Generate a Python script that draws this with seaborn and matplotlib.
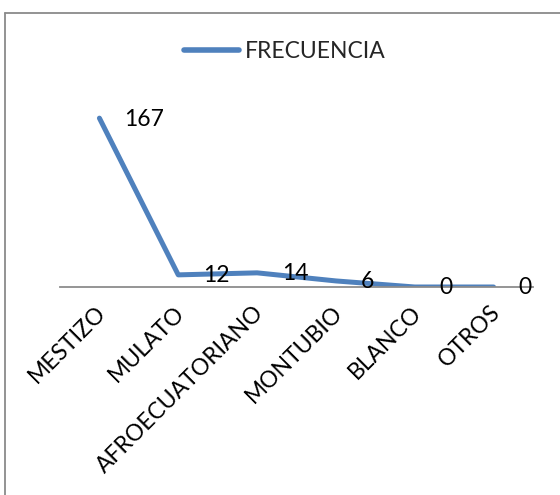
import matplotlib
matplotlib.use("Agg")
import matplotlib.pyplot as plt
from matplotlib.lines import Line2D
from matplotlib.transforms import ScaledTranslation
import seaborn as sns
import pandas as pd

categorias = ["MESTIZO", "MULATO", "AFROECUATORIANO", "MONTUBIO", "BLANCO", "OTROS"]
frecuencia = [167, 12, 14, 6, 0, 0]
serie = "FRECUENCIA"

sns.set_theme(style="white")
plt.rcParams["font.family"] = ["Lato", "DejaVu Sans"]
FS = 16.5

W, H, DPI = 560, 495, 100
fig = plt.figure(figsize=(W / DPI, H / DPI), dpi=DPI)
fig.patch.set_facecolor("white")

# plot area in pixels: x 60..533, zero line at y=287, top at y=105
left, right, zero_y, top_y = 60, 533, 287, 105
ax = fig.add_axes([left / W, (H - zero_y) / H, (right - left) / W, (zero_y - top_y) / H])

df = pd.DataFrame({"categoria": categorias, serie: frecuencia})
azul = "#4F81BD"
sns.lineplot(data=df, x="categoria", y=serie, sort=False, ax=ax, color=azul,
             linewidth=3.6, label=serie, solid_capstyle="round", solid_joinstyle="round")

ax.set_xlim(-0.5, len(categorias) - 0.5)
ax.set_ylim(0, 180)
ax.set_xlabel("")
ax.set_ylabel("")
ax.set_yticks([])
for s in ["top", "right", "left"]:
    ax.spines[s].set_visible(False)
ax.spines["bottom"].set_color("#8C8C8C")
ax.spines["bottom"].set_linewidth(1.3)

ax.set_xticks(range(len(categorias)))
ax.set_xticklabels(categorias, rotation=45, ha="right", rotation_mode="anchor",
                   fontsize=FS, color="black")
ax.tick_params(axis="x", length=0, pad=16)
shift = ScaledTranslation(3 / DPI, 0, fig.dpi_scale_trans)
for lab in ax.get_xticklabels():
    lab.set_transform(lab.get_transform() + shift)
    lab.set_va("center")

# value labels to the right of each point
for i, v in enumerate(frecuencia):
    ax.annotate(str(v), (i, v), xytext=(25, -1), textcoords="offset pixels",
                ha="left", va="center", fontsize=FS, color="black")

leg = ax.legend(loc="center", bbox_to_anchor=(0.508, 1 - 52 / H),
                bbox_transform=fig.transFigure, frameon=False, fontsize=FS,
                handlelength=2.4, handletextpad=0.25)
for h in leg.get_lines():
    h.set_linewidth(4)
    h.set_solid_capstyle("round")

# chart border (top and left edges)
borde = "#8A8A8A"
fig.add_artist(Line2D([5 / W, 1], [1 - 13 / H, 1 - 13 / H], transform=fig.transFigure,
                      color=borde, lw=1.3))
fig.add_artist(Line2D([5 / W, 5 / W], [0, 1 - 13 / H], transform=fig.transFigure,
                      color=borde, lw=1.3))

fig.savefig("out.png", dpi=DPI, facecolor="white")
